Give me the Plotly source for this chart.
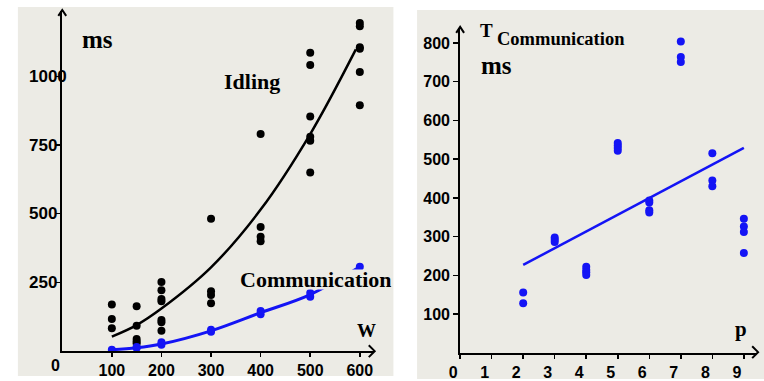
import plotly.graph_objects as go

# ---------------- data (left panel) ----------------
idle_w = [100, 100, 100,
          150, 150, 150, 150, 150,
          200, 200, 200, 200, 200, 200, 200,
          300, 300, 300, 300,
          400, 400, 400, 400,
          500, 500, 500, 500, 500, 500,
          600, 600, 600, 600, 600, 600]
idle_ms = [170, 117, 83,
           163, 92, 44, 35, 28,
           252, 222, 190, 182, 113, 105, 74,
           482, 218, 204, 174,
           790, 452, 416, 400,
           1086, 1041, 854, 780, 766, 650,
           1194, 1182, 1106, 1100, 1016, 895]
idle_fit_w = [100, 150, 200, 300, 400, 500, 592]
idle_fit_ms = [53, 95, 155, 305, 515, 790, 1098]

comm_w = [100, 150, 150, 200, 200, 300, 300, 400, 400, 500, 500, 600]
comm_ms = [5, 11, 15, 23, 32, 71, 78, 134, 146, 198, 212, 307]
comm_fit_w = [100, 150, 200, 300, 400, 500, 600]
comm_fit_ms = [5, 12, 26, 74, 140, 206, 307]

left_xticks = [100, 200, 300, 400, 500, 600]
left_yticks = [250, 500, 750, 1000]

# ---------------- data (right panel) ----------------
p_vals = [2, 2,
          3, 3, 3,
          4, 4, 4, 4,
          5, 5, 5, 5,
          6, 6, 6, 6,
          7, 7, 7,
          8, 8, 8,
          9, 9, 9, 9]
t_comm = [156, 128,
          298, 292, 286,
          222, 214, 208, 201,
          542, 535, 529, 522,
          393, 388, 368, 362,
          804, 764, 751,
          515, 445, 430,
          346, 326, 312, 258]
trend_p = [2, 9]
trend_t = [227, 529]

right_xticks = [0, 1, 2, 3, 4, 5, 6, 7, 8, 9]
right_yticks = [100, 200, 300, 400, 500, 600, 700, 800]

# ---------------- layout helpers ----------------
W, H = 764, 381
BG = "#ECEBE5"
BLUE = "#1414F5"
SERIF = "Liberation Serif"
SANS = "Liberation Sans"


def px(x):
    return x / W


def py(y):
    return 1 - y / H


fig = go.Figure()

# left panel
fig.add_trace(go.Scatter(x=idle_fit_w, y=idle_fit_ms, mode="lines",
                         line=dict(color="black", width=2.5, shape="spline"),
                         xaxis="x", yaxis="y", hoverinfo="skip"))
fig.add_trace(go.Scatter(x=idle_w, y=idle_ms, mode="markers",
                         marker=dict(color="black", size=8),
                         xaxis="x", yaxis="y"))
fig.add_trace(go.Scatter(x=comm_fit_w, y=comm_fit_ms, mode="lines",
                         line=dict(color=BLUE, width=3, shape="spline"),
                         xaxis="x", yaxis="y", hoverinfo="skip"))
fig.add_trace(go.Scatter(x=comm_w, y=comm_ms, mode="markers",
                         marker=dict(color=BLUE, size=8),
                         xaxis="x", yaxis="y"))

# right panel
fig.add_trace(go.Scatter(x=trend_p, y=trend_t, mode="lines",
                         line=dict(color=BLUE, width=2.5),
                         xaxis="x2", yaxis="y2", hoverinfo="skip"))
fig.add_trace(go.Scatter(x=p_vals, y=t_comm, mode="markers",
                         marker=dict(color=BLUE, size=8),
                         xaxis="x2", yaxis="y2"))

axis_common = dict(showgrid=False, zeroline=False, showline=True,
                   linecolor="black", linewidth=2, tickcolor="black",
                   tickwidth=1.5, ticks="outside", ticklen=4)
tick_font = dict(family=SANS, size=16, color="black", weight="bold")

fig.update_layout(
    width=W, height=H,
    margin=dict(l=0, r=0, t=0, b=0),
    paper_bgcolor="white",
    plot_bgcolor="rgba(0,0,0,0)",
    showlegend=False,
    xaxis=dict(domain=[px(52), px(368)], range=[0, 628], anchor="y",
               tickvals=left_xticks, tickfont=tick_font, **axis_common),
    yaxis=dict(domain=[py(353), py(11)], range=[0, 1238], anchor="x",
               tickvals=left_yticks, showticklabels=False,
               **{**axis_common, "ticklen": 5}),
    xaxis2=dict(domain=[px(455.7), px(757)], range=[0, 9.42], anchor="y2",
                tickvals=right_xticks, ticklabelshift=-7,
                tickfont=tick_font, **axis_common),
    yaxis2=dict(domain=[py(354.7), py(28)], range=[0, 839], anchor="x2",
                tickvals=right_yticks, tickfont=tick_font,
                **{**axis_common, "ticklen": 5}),
)

# panel backgrounds
fig.add_shape(type="rect", xref="paper", yref="paper", layer="below",
              x0=px(7), x1=px(388), y0=py(378), y1=py(7),
              fillcolor=BG, line=dict(width=0))
fig.add_shape(type="rect", xref="paper", yref="paper", layer="below",
              x0=px(412), x1=px(764), y0=py(381), y1=py(10),
              fillcolor=BG, line=dict(width=0))


# arrow heads (chevrons)
def chevron(points):
    path = "M " + " L ".join(f"{px(x):.5f},{py(y):.5f}" for x, y in points)
    fig.add_shape(type="path", xref="paper", yref="paper", path=path,
                  line=dict(color="black", width=2))


chevron([(48, 16), (52, 10), (56, 16)])
chevron([(363, 347), (369, 353), (363, 359)])
chevron([(451.7, 33), (455.7, 27), (459.7, 33)])
chevron([(752, 348), (758, 354), (752, 360)])

anns = []
# left y tick labels (left aligned, as in the reference)
for v in left_yticks:
    anns.append(dict(xref="paper", yref="y", x=px(16), y=v, text=str(v),
                     xanchor="left", yanchor="middle", showarrow=False,
                     font=dict(family=SANS, size=17, color="black", weight="bold")))
anns.append(dict(xref="paper", yref="paper", x=px(45), y=py(367), text="0",
                 xanchor="center", yanchor="middle", showarrow=False,
                 font=tick_font))


def label(text, x, y, size, anchor="center", bg=None):
    d = dict(xref="paper", yref="paper", x=px(x), y=py(y), text=text,
             xanchor=anchor, yanchor="middle", showarrow=False,
             font=dict(family=SERIF, size=size, color="black", weight="bold"))
    if bg:
        d["bgcolor"] = bg
        d["borderpad"] = 0
        d["height"] = 19
    anns.append(d)


label("ms", 87.5, 40, 25)
label("Idling", 244.5, 82, 22)
label("Communication", 309, 281, 22, bg=BG)
label("W", 361, 332, 19)
label("T", 482.5, 31, 19)
label("Communication", 491.5, 39, 18.5, anchor="left")
label("ms", 493, 66, 25)
label("p", 741, 331, 21)

fig.update_layout(annotations=anns)

fig.write_html("out.html",
               config={"staticPlot": True, "displayModeBar": False},
               post_script="document.body.style.margin='0';"
                           "document.body.style.overflow='hidden';")
